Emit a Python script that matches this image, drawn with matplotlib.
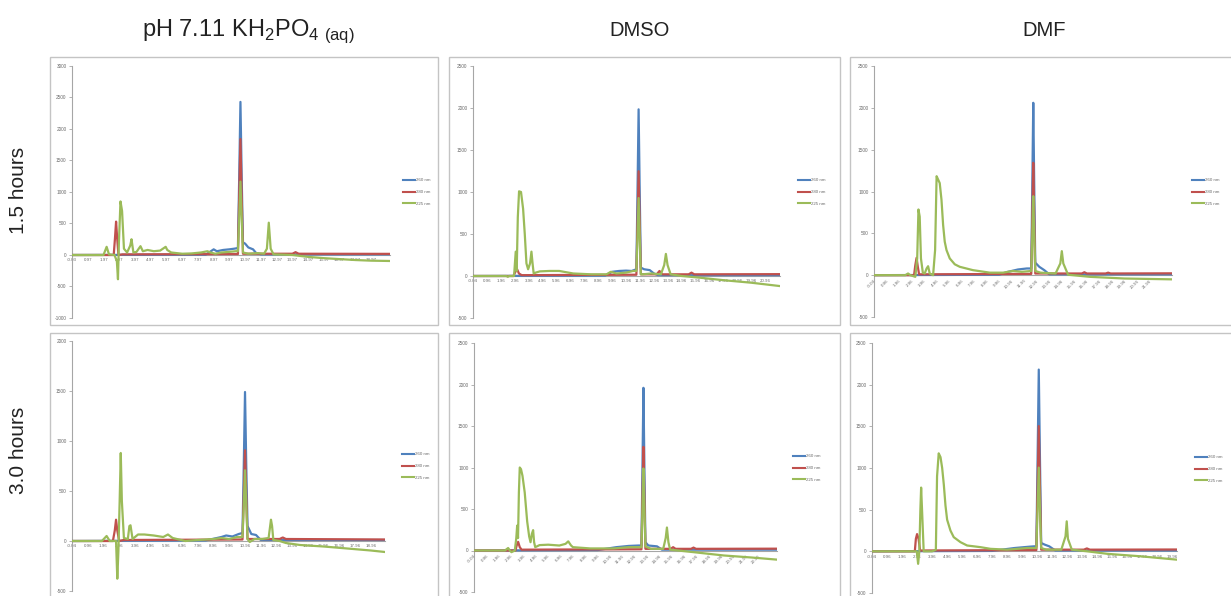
import matplotlib
matplotlib.use("Agg")
import matplotlib.pyplot as plt
from matplotlib.patches import Rectangle
from matplotlib.lines import Line2D

plt.rcParams['font.family'] = ['Liberation Sans', 'DejaVu Sans']
plt.rcParams['mathtext.fontset'] = 'custom'
plt.rcParams['mathtext.rm'] = 'Liberation Sans'

W, H = 1231, 596

# ---------------- titles ----------------
col_titles = [r'pH 7.11 KH$_\mathregular{2}$PO$_\mathregular{4}$$_\mathregular{\ (aq)}$', 'DMSO', 'DMF']
row_titles = ['1.5 hours', '3.0 hours']
legend_labels = ['260 nm', '280 nm', '225 nm']

# ---------------- data (x in minutes along the axis, y in mAU) ----------------
# pH 7.11, 1.5 h
ph15_blue_x = [0, 8.5, 9.0, 9.2, 9.6, 10.0, 10.3, 10.54, 10.62, 10.7, 10.78, 10.86, 11.0, 11.2, 11.5, 11.7, 12.0, 20.2]
ph15_blue_y = [0, 5, 90, 60, 80, 90, 100, 110, 1215, 2430, 1215, 200, 180, 120, 90, 30, 10, 10]
ph15_red_x = [0, 2.65, 2.73, 2.8, 2.87, 2.95, 3.2, 10.4, 10.54, 10.62, 10.7, 10.78, 10.86, 14.0, 14.2, 14.4, 20.2]
ph15_red_y = [0, 0, 265, 530, 265, 0, 10, 15, 15, 920, 1840, 920, 20, 20, 45, 20, 18]
ph15_green_x = [0, 2.0, 2.2, 2.35, 2.7, 2.85, 2.92, 2.98, 3.08, 3.18, 3.3, 3.5, 3.7, 3.78, 3.9, 4.1, 4.35,
                4.5, 4.8, 5.2, 5.6, 5.95, 6.05, 6.3, 7.0, 7.6, 8.2, 8.6, 8.8, 9.1, 9.5, 10.0, 10.4, 10.54,
                10.62, 10.7, 10.78, 10.86, 11.2, 11.8, 12.2, 12.38, 12.5, 12.62, 12.8, 13.5, 14.0, 15.0,
                16.0, 17.0, 18.0, 19.0, 20.2]
ph15_green_y = [0, 0, 130, 10, 0, -100, -385, 200, 850, 700, 100, 40, 150, 250, 40, 50, 140,
                60, 80, 60, 70, 130, 80, 40, 20, 25, 40, 60, 40, 20, 40, 50, 60, 60,
                580, 1165, 580, 40, 20, 30, 20, 100, 513, 100, 10, 5, 0, -30,
                -50, -65, -80, -90, -95]

# DMSO, 1.5 h
dmso15_blue_x = [0, 9.5, 10.0, 10.5, 11.0, 11.4, 11.74, 11.82, 11.9, 11.98, 12.06, 12.3, 12.7, 13.0, 13.3, 22.06]
dmso15_blue_y = [0, 5, 50, 60, 64, 60, 80, 990, 1984, 990, 100, 80, 70, 30, 10, 10]
dmso15_red_x = [0, 2.9, 3.05, 3.17, 3.3, 3.5, 11.6, 11.74, 11.82, 11.9, 11.98, 12.06, 13.2, 13.4, 13.6, 15.5, 15.7, 15.9, 22.06]
dmso15_red_y = [0, 0, 50, 80, 30, 10, 15, 15, 620, 1247, 620, 20, 20, 60, 20, 20, 40, 20, 22]
dmso15_green_x = [0, 2.4, 2.5, 2.6, 2.95, 3.07, 3.14, 3.22, 3.31, 3.45, 3.6, 3.72, 3.84, 3.96, 4.1, 4.2,
                  4.28, 4.36, 4.5, 4.8, 5.5, 6.2, 7.2, 8.5, 9.6, 9.9, 10.3, 11.0, 11.5, 11.74, 11.82,
                  11.9, 11.98, 12.06, 12.2, 12.8, 13.5, 13.74, 13.86, 13.98, 14.2, 15.0, 16.3, 18.0,
                  20.0, 22.06]
dmso15_green_y = [0, 0, -10, 0, 0, 290, 60, 700, 1008, 1000, 800, 500, 150, 80, 150, 290,
                  150, 30, 40, 55, 60, 60, 30, 20, 20, 50, 30, 40, 60, 60, 460,
                  928, 460, 20, 20, 30, 20, 130, 263, 130, 20, 0, -20, -50,
                  -80, -120]

# DMF, 1.5 h
dmf15_blue_x = [0, 10.0, 10.7, 11.5, 12.2, 12.56, 12.64, 12.72, 12.8, 12.88, 13.2, 13.6, 14.0, 23.8]
dmf15_blue_y = [0, 5, 40, 68, 80, 80, 1030, 2060, 1030, 150, 100, 60, 10, 10]
dmf15_red_x = [0, 3.2, 3.3, 3.4, 3.5, 3.6, 12.45, 12.56, 12.64, 12.72, 12.8, 12.88, 16.6, 16.8, 17.0, 18.5, 18.7, 18.9, 23.8]
dmf15_red_y = [0, 0, 120, 207, 100, 10, 15, 15, 670, 1343, 670, 20, 20, 35, 20, 20, 30, 20, 22]
dmf15_green_x = [0, 2.5, 2.72, 2.9, 3.3, 3.45, 3.55, 3.65, 3.75, 3.9, 4.05, 4.2, 4.32, 4.45, 4.72, 4.88,
                 5.0, 5.1, 5.25, 5.39, 5.52, 5.65, 5.79, 6.05, 6.45, 6.85, 7.9, 9.25, 10.3, 11.1,
                 11.8, 12.56, 12.64, 12.72, 12.8, 12.88, 13.3, 14.5, 14.88, 15.0, 15.12, 15.5, 17.25,
                 20.0, 23.8]
dmf15_green_y = [0, 0, 20, 0, -20, 200, 785, 700, 200, 30, 20, 80, 107, 20, 0, 300,
                 1183, 1150, 1100, 900, 600, 400, 300, 200, 130, 100, 60, 30, 30, 50,
                 40, 50, 470, 944, 470, 50, 30, 20, 140, 287, 140, 5, -20,
                 -40, -50]

# pH 7.11, 3.0 h
ph30_blue_x = [0, 8.5, 9.5, 9.8, 10.2, 10.6, 10.84, 10.92, 11.0, 11.08, 11.16, 11.4, 11.7, 12.0, 19.9]
ph30_blue_y = [0, 5, 40, 55, 45, 70, 80, 745, 1490, 745, 150, 70, 60, 10, 10]
ph30_red_x = [0, 2.6, 2.72, 2.8, 2.88, 3.0, 3.3, 10.7, 10.84, 10.92, 11.0, 11.08, 11.16, 13.2, 13.4, 13.6, 19.9]
ph30_red_y = [0, 0, 105, 213, 105, 0, 10, 15, 15, 455, 907, 455, 20, 20, 35, 20, 15]
ph30_green_x = [0, 1.9, 2.2, 2.4, 2.8, 2.88, 2.95, 3.03, 3.1, 3.17, 3.3, 3.55, 3.65, 3.72, 3.85, 4.2,
                4.6, 5.2, 5.8, 6.1, 6.4, 7.2, 8.0, 9.0, 9.5, 10.0, 10.5, 10.84, 10.92, 11.0, 11.08,
                11.16, 11.3, 11.6, 12.1, 12.5, 12.65, 12.72, 12.8, 13.2, 13.6, 14.5, 16.0, 17.5,
                19.0, 19.9]
ph30_green_y = [0, 0, 50, 0, 0, -377, -100, 400, 880, 400, 30, 20, 150, 157, 20, 65,
                65, 55, 40, 65, 30, 0, 10, 20, 30, 20, 40, 40, 350, 707, 350,
                20, -10, 20, 20, 30, 213, 150, 10, 0, -20, -40, -55, -75,
                -95, -110]

# DMSO, 3.0 h
dmso30_blue_x = [0, 10.0, 11.5, 12.5, 13.3, 13.54, 13.62, 13.7, 13.78, 13.86, 14.1, 14.8, 15.2, 24.5]
dmso30_blue_y = [0, 5, 40, 55, 60, 60, 980, 1960, 980, 100, 60, 50, 10, 10]
dmso30_red_x = [0, 3.35, 3.45, 3.57, 3.7, 3.85, 13.4, 13.54, 13.62, 13.7, 13.78, 13.86, 15.9, 16.1, 16.3, 17.55, 17.75, 17.95, 24.5]
dmso30_red_y = [0, 0, 60, 104, 40, 10, 15, 15, 620, 1249, 620, 20, 20, 40, 20, 20, 35, 20, 22]
dmso30_green_x = [0, 2.5, 2.76, 2.9, 3.03, 3.3, 3.42, 3.49, 3.56, 3.63, 3.7, 3.8, 3.92, 4.1, 4.3, 4.46,
                  4.57, 4.68, 4.78, 4.86, 4.95, 5.3, 6.0, 6.9, 7.4, 7.62, 7.85, 8.0, 9.4, 11.3, 12.5,
                  13.54, 13.62, 13.7, 13.78, 13.86, 14.3, 15.3, 15.5, 15.6, 15.72, 15.86, 17.75, 20.2,
                  22.5, 24.5]
dmso30_green_y = [0, 0, 30, 0, -20, 0, 150, 300, 150, 700, 1000, 980, 900, 700, 350, 170,
                  100, 200, 245, 100, 40, 65, 70, 60, 80, 110, 60, 40, 25, 25, 40,
                  40, 490, 988, 490, 50, 20, 20, 150, 277, 100, 10, -20, -60,
                  -85, -110]

# DMF, 3.0 h
dmf30_blue_x = [0, 8.0, 9.5, 10.5, 10.8, 10.94, 11.02, 11.1, 11.18, 11.26, 11.5, 11.8, 12.2, 20.3]
dmf30_blue_y = [0, 5, 40, 56, 60, 60, 1090, 2181, 1090, 100, 80, 60, 10, 10]
dmf30_red_x = [0, 2.85, 2.92, 3.0, 3.1, 3.2, 10.8, 10.94, 11.02, 11.1, 11.18, 11.26, 14.1, 14.3, 14.5, 20.3]
dmf30_red_y = [0, 0, 150, 207, 150, 10, 15, 15, 750, 1503, 750, 20, 20, 35, 20, 22]
dmf30_green_x = [0, 2.8, 2.98, 3.07, 3.15, 3.22, 3.27, 3.33, 3.44, 4.0, 4.25, 4.33, 4.44, 4.56, 4.67,
                 4.78, 4.89, 5.0, 5.22, 5.44, 5.89, 6.33, 6.78, 7.22, 7.89, 9.0, 10.33, 10.94, 11.02,
                 11.1, 11.18, 11.26, 11.6, 12.6, 12.88, 12.96, 13.04, 13.3, 14.33, 15.67, 17.9, 20.3]
dmf30_green_y = [0, 0, 0, -150, 0, 500, 765, 500, 0, 0, 20, 900, 1176, 1130, 1000,
                 800, 550, 380, 250, 170, 110, 70, 60, 50, 30, 20, 40, 40, 500,
                 1005, 500, 40, 20, 20, 180, 360, 150, 20, 0, -30, -60, -100]

# y-axis ranges and ticks, x tick labels
ph15_ylim, ph15_yticks = (-1000, 3000), [-1000, -500, 0, 500, 1000, 1500, 2000, 2500, 3000]
dmso15_ylim, dmso15_yticks = (-500, 2500), [-500, 0, 500, 1000, 1500, 2000, 2500]
dmf15_ylim, dmf15_yticks = (-500, 2500), [-500, 0, 500, 1000, 1500, 2000, 2500]
ph30_ylim, ph30_yticks = (-500, 2000), [-500, 0, 500, 1000, 1500, 2000]
dmso30_ylim, dmso30_yticks = (-500, 2500), [-500, 0, 500, 1000, 1500, 2000, 2500]
dmf30_ylim, dmf30_yticks = (-500, 2500), [-500, 0, 500, 1000, 1500, 2000, 2500]

ph15_xlabels = ['%.2f' % (k - 0.03) for k in range(20)]
dmso15_xlabels = ['%.2f' % (k - 0.04) for k in range(22)]
dmf15_xlabels = ['%.2f' % (k - 0.04) for k in range(23)]
ph30_xlabels = ['%.2f' % (k - 0.04) for k in range(20)]
dmso30_xlabels = ['%.2f' % (k - 0.04) for k in range(24)]
dmf30_xlabels = ['%.2f' % (k - 0.04) for k in range(21)]

BLUE, RED, GREEN = '#4f81bd', '#c0504d', '#9bbb59'
AXC = '#a6a6a6'
TXT = '#6a6a6a'

fig = plt.figure(figsize=(W / 100, H / 100), dpi=100)
fig.patch.set_facecolor('white')


def fx(x):
    return x / W


def fy(y):
    return 1 - y / H


def frame(x0, y0, x1, y1):
    fig.add_artist(Rectangle((fx(x0), fy(y1)), fx(x1 - x0), (y1 - y0) / H,
                             transform=fig.transFigure, fill=False,
                             edgecolor='#c4c4c4', lw=1.0))


def panel(box, xmax, ylim, yticks, xlabels, rotate, series, leg_xy):
    left, top, right, bottom = box
    ax = fig.add_axes([fx(left), fy(bottom), fx(right - left), (bottom - top) / H])
    ax.set_facecolor('none')
    for (xs, ys, c) in series:
        ax.plot(xs, ys, color=c, lw=1.6, solid_joinstyle='round', zorder=3)
    ax.set_xlim(0, xmax)
    ax.set_ylim(*ylim)
    ax.spines['top'].set_visible(False)
    ax.spines['right'].set_visible(False)
    ax.spines['left'].set_color(AXC)
    ax.spines['left'].set_linewidth(0.8)
    ax.spines['bottom'].set_position(('data', 0))
    ax.spines['bottom'].set_color(AXC)
    ax.spines['bottom'].set_linewidth(0.8)
    ax.set_yticks(yticks)
    ax.set_yticklabels([str(v) for v in yticks])
    ax.set_xticks(range(len(xlabels)))
    if rotate:
        ax.set_xticklabels(xlabels, rotation=45, ha='right', rotation_mode='anchor')
    else:
        ax.set_xticklabels(xlabels)
    ax.tick_params(axis='y', length=2, width=0.6, color=AXC, labelsize=3.4,
                   labelcolor=TXT, pad=2)
    ax.tick_params(axis='x', length=0, labelsize=3.2, labelcolor=TXT, pad=2.5)
    handles = [Line2D([], [], color=c, lw=1.5) for c in (BLUE, RED, GREEN)]
    ax.legend(handles, legend_labels, loc='center left',
              bbox_to_anchor=(fx(leg_xy[0]), fy(leg_xy[1])),
              bbox_transform=fig.transFigure, frameon=False, fontsize=3.2,
              handlelength=2.6, handletextpad=0.3, labelspacing=1.7,
              borderpad=0, borderaxespad=0, labelcolor=TXT)
    return ax


# frames
frame(50, 57, 438, 325)
frame(449, 57, 840, 325)
frame(850, 57, 1236, 325)
frame(50, 333, 438, 602)
frame(449, 333, 840, 602)
frame(850, 333, 1236, 602)

panel((72, 66, 390, 318), 20.2, ph15_ylim, ph15_yticks, ph15_xlabels, False,
      [(ph15_blue_x, ph15_blue_y, BLUE), (ph15_red_x, ph15_red_y, RED),
       (ph15_green_x, ph15_green_y, GREEN)], (403, 192))
panel((473, 66, 780, 318), 22.06, dmso15_ylim, dmso15_yticks, dmso15_xlabels, False,
      [(dmso15_blue_x, dmso15_blue_y, BLUE), (dmso15_red_x, dmso15_red_y, RED),
       (dmso15_green_x, dmso15_green_y, GREEN)], (798, 192))
panel((874, 66, 1172, 317), 23.8, dmf15_ylim, dmf15_yticks, dmf15_xlabels, True,
      [(dmf15_blue_x, dmf15_blue_y, BLUE), (dmf15_red_x, dmf15_red_y, RED),
       (dmf15_green_x, dmf15_green_y, GREEN)], (1192, 192))
panel((72, 341, 385, 591), 19.9, ph30_ylim, ph30_yticks, ph30_xlabels, False,
      [(ph30_blue_x, ph30_blue_y, BLUE), (ph30_red_x, ph30_red_y, RED),
       (ph30_green_x, ph30_green_y, GREEN)], (402, 466))
panel((474, 343, 777, 592), 24.5, dmso30_ylim, dmso30_yticks, dmso30_xlabels, True,
      [(dmso30_blue_x, dmso30_blue_y, BLUE), (dmso30_red_x, dmso30_red_y, RED),
       (dmso30_green_x, dmso30_green_y, GREEN)], (793, 468))
panel((872, 343, 1177, 593), 20.3, dmf30_ylim, dmf30_yticks, dmf30_xlabels, False,
      [(dmf30_blue_x, dmf30_blue_y, BLUE), (dmf30_red_x, dmf30_red_y, RED),
       (dmf30_green_x, dmf30_green_y, GREEN)], (1195, 469))

# column / row titles
fig.text(fx(248), fy(31), col_titles[0], ha='center', va='center', fontsize=17, color='#222222')
fig.text(fx(640), fy(30), col_titles[1], ha='center', va='center', fontsize=14.5, color='#222222')
fig.text(fx(1044), fy(30), col_titles[2], ha='center', va='center', fontsize=14.5, color='#222222')
for t, yc in zip(row_titles, (190, 450)):
    fig.text(fx(19), fy(yc), t, ha='center', va='center', rotation=90, fontsize=15,
             color='#222222')

fig.savefig('out.png', dpi=100, facecolor='white')
